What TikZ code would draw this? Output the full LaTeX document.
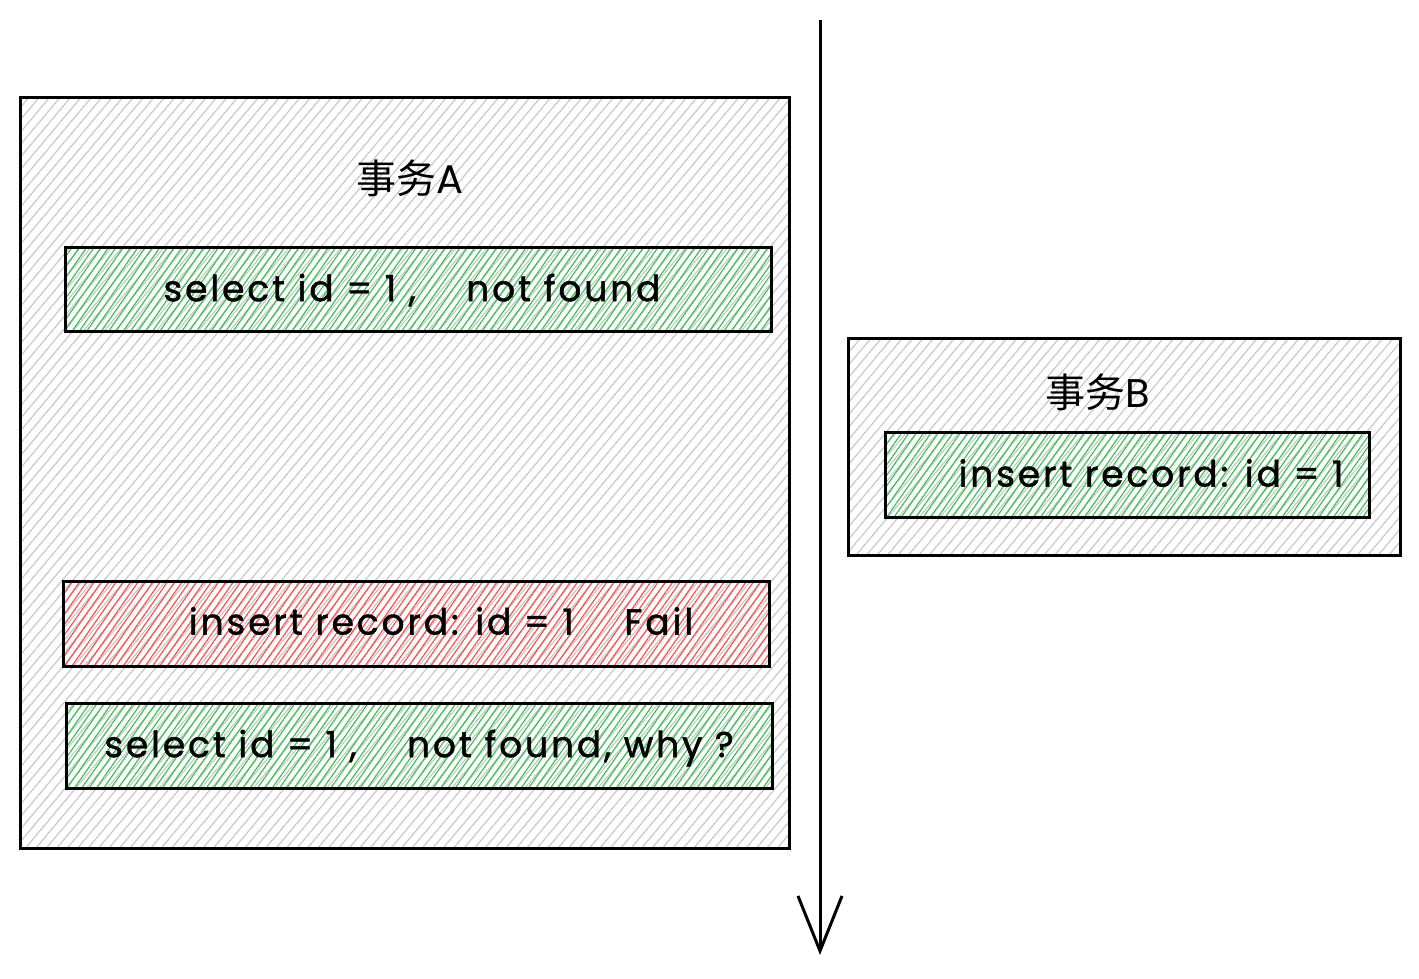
\documentclass[tikz,border=0pt]{standalone}
\usepackage{fontspec}
\setmainfont{Poppins}[LetterSpace=8,FakeBold=1.2]
\newfontfamily\titlefont{Poppins}
\newfontfamily\cjk{Noto Sans CJK SC}
\usetikzlibrary{patterns.meta,arrows.meta}
\definecolor{hgray}{HTML}{C6C9CC}
\definecolor{hgreen}{HTML}{40C057}
\definecolor{hred}{HTML}{FA5252}
\tikzset{
  outerbox/.style={draw=black, line width=3pt, pattern={Lines[angle=50,distance=8pt,line width=1.2pt]}, pattern color=hgray},
  greenbox/.style={draw=black, line width=3pt, pattern={Lines[angle=55,distance=6pt,line width=1.2pt]}, pattern color=hgreen},
  redbox/.style={draw=black, line width=3pt, pattern={Lines[angle=55,distance=6pt,line width=1.2pt]}, pattern color=hred},
  label/.style={font=\fontsize{36}{40}\selectfont, text=black, inner sep=0pt},
  title/.style={font=\fontsize{40}{44}\selectfont, text=black, inner sep=0pt},
}
\begin{document}
\begin{tikzpicture}[x=1pt,y=-1pt]
\useasboundingbox (0,0) rectangle (1419,978);
\fill[white] (0,0) rectangle (1419,978);
% Transaction A
\path[outerbox] (20,97) rectangle (789,848);
\node[title] (ta) at (410,178) {\cjk 事务\titlefont A};
\path[greenbox] (65,247) rectangle (771,331);
\node[label] (s1) at (412,290) {select id = 1 ,\hspace{1.4em}not found};
\path[redbox] (63,581) rectangle (769,666);
\node[label] (ins) at (441,621) {insert record: id = 1\hspace{1.4em}Fail};
\path[greenbox] (66,703) rectangle (772,788);
\node[label] (s2) at (419,748) {select id = 1 ,\hspace{1.4em}not found, why ?};
% Transaction B
\path[outerbox] (848,338) rectangle (1400,555);
\node[title] (tb) at (1098,392) {\cjk 事务\titlefont B};
\path[greenbox] (885,432) rectangle (1369,517);
\node[label] (insb) at (1151,473) {insert record: id = 1};
% time arrow
\coordinate (top) at (820,20);
\coordinate (bot) at (820,955);
\draw[line width=3pt, -{Straight Barb[length=55pt,width=44pt,line width=3pt]}] (top) -- (bot);
\end{tikzpicture}
\end{document}
